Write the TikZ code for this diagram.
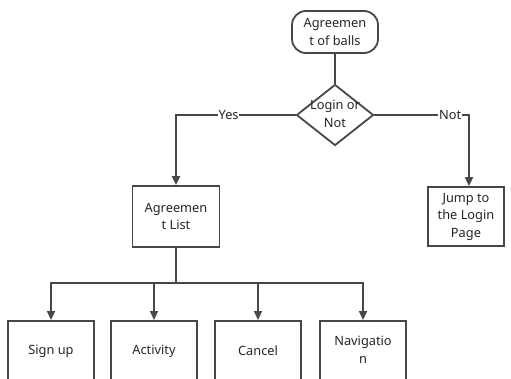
\documentclass[tikz,border=0pt]{standalone}
\usepackage{fontspec}
\setmainfont{Noto Sans}
\usetikzlibrary{shapes.geometric,arrows.meta}
\begin{document}
\begin{tikzpicture}[x=1pt,y=-1pt,
  every node/.style={font=\fontsize{12.8}{17.5}\selectfont, text=black!85, align=center, inner sep=0pt},
  boxst/.style={draw=black!72, line width=1.8pt, minimum width=#1, fill=white},
  conn/.style={draw=black!72, line width=1.8pt},
  arr/.style={conn, -{Triangle[length=9pt,width=8pt]}},
  lab/.style={fill=white, inner sep=0.6pt}]
\useasboundingbox (0,0) rectangle (511,378);
\begin{scope}
\clip (0,0) rectangle (511,378);
\node[boxst=86pt, minimum height=42pt, rounded corners=14pt] (start) at (335,32) {Agreemen\\t of balls};
\node[draw=black!72, line width=1.8pt, diamond, minimum width=77pt, minimum height=61pt, fill=white] (dec) at (335,115) {};
\node at (335,114) {Login or\\Not};
\node[boxst=87pt, minimum height=61pt] (list) at (176,216.5) {Agreemen\\t List};
\node[boxst=76pt, minimum height=59pt] (jump) at (466,216.5) {Jump to\\the Login\\Page};
\node[boxst=86pt, minimum height=62pt, anchor=north] (b1) at (51,320) {};
\node[boxst=86pt, minimum height=62pt, anchor=north] (b2) at (154,320) {};
\node[boxst=86pt, minimum height=62pt, anchor=north] (b3) at (258,320) {};
\node[boxst=86pt, minimum height=62pt, anchor=north] (b4) at (363,320) {};
\node (t1) at (51,351) {Sign up};
\node (t2) at (154,351) {Activity};
\node (t3) at (258,351) {Cancel};
\node (t4) at (363,350) {Navigatio\\n};
\draw[conn] (start.south) -- (dec.north);
\draw[arr] (dec.west) -| (list.north) node[lab, pos=0.28] {Yes};
\draw[arr] (dec.east) -| ([xshift=3pt]jump.north) node[lab, pos=0.4] {Not};
\coordinate (bus) at (176,283);
\draw[conn] (list.south) -- (bus);
\draw[arr] (bus) -| (b1.north);
\draw[arr] (bus) -| (b2.north);
\draw[arr] (bus) -| (b3.north);
\draw[arr] (bus) -| (b4.north);
\end{scope}
\end{tikzpicture}
\end{document}
